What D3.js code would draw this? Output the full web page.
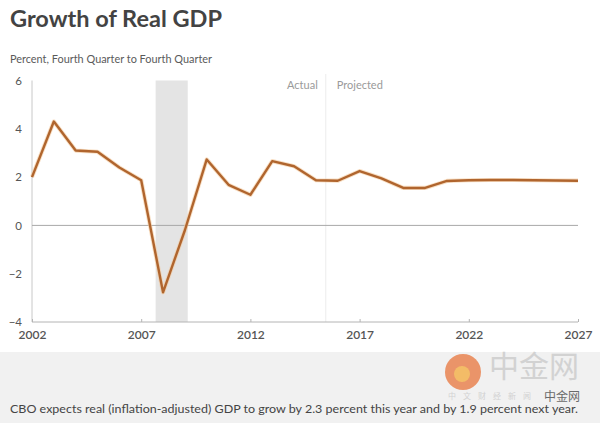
<!DOCTYPE html>
<html>
<head>
<meta charset="utf-8">
<script src="https://cdn.jsdelivr.net/npm/d3@7"></script>
<style>
  html, body { margin: 0; padding: 0; background: #fff; }
  svg { display: block; font-family: Lato, "Open Sans", "Noto Sans", sans-serif; }
</style>
</head>
<body>
<svg id="chart" width="600" height="423"></svg>
<script>
const years = [2002,2003,2004,2005,2006,2007,2008,2009,2010,2011,2012,2013,2014,2015,2016,2017,2018,2019,2020,2021,2022,2023,2024,2025,2026,2027];
const growth = [2.0,4.3,3.1,3.05,2.4,1.87,-2.77,-0.2,2.73,1.68,1.27,2.66,2.45,1.87,1.85,2.25,1.95,1.55,1.55,1.84,1.87,1.88,1.88,1.87,1.86,1.85];
const xTicks = [2002,2007,2012,2017,2022,2027];
const yTicks = [-4,-2,0,2,4,6];
const recession = [2007.66, 2009.13];
const divider = 2015.45;
const title = "Growth of Real GDP";
const subtitle = "Percent, Fourth Quarter to Fourth Quarter";
const caption = "CBO expects real (inflation-adjusted) GDP to grow by 2.3 percent this year and by 1.9 percent next year.";

const svg = d3.select("#chart");
const x = d3.scaleLinear().domain([2002, 2027]).range([32, 578]);
const y = d3.scaleLinear().domain([-4, 6]).range([322, 80.5]);

// caption band
svg.append("rect").attr("x",0).attr("y",352).attr("width",600).attr("height",71).attr("fill","#f1f1f1");

// title
svg.append("text").attr("x",10).attr("y",27).attr("font-size",22).attr("font-weight",700)
  .attr("fill","#434343").attr("textLength",212).attr("lengthAdjust","spacingAndGlyphs").text(title);
svg.append("text").attr("x",10).attr("y",63).attr("font-size",11.5).attr("fill","#5a5a5a")
  .attr("textLength",202).attr("lengthAdjust","spacingAndGlyphs").text(subtitle);

// recession band
svg.append("rect").attr("x",x(recession[0])).attr("y",y(6)).attr("width",x(recession[1])-x(recession[0]))
  .attr("height",y(-4)-y(6)).attr("fill","#e4e4e4");

// divider
svg.append("line").attr("x1",x(divider)).attr("x2",x(divider)).attr("y1",74).attr("y2",y(-4))
  .attr("stroke","#efefef").attr("stroke-width",1.2);
svg.append("text").attr("x",x(divider)-8).attr("y",89).attr("text-anchor","end").attr("font-size",11)
  .attr("fill","#9a9a9a").text("Actual");
svg.append("text").attr("x",x(divider)+11).attr("y",89).attr("text-anchor","start").attr("font-size",11)
  .attr("fill","#9a9a9a").text("Projected");

// y axis line
svg.append("line").attr("x1",x(2002)).attr("x2",x(2002)).attr("y1",y(6)).attr("y2",y(-4))
  .attr("stroke","#c8c8c8").attr("stroke-width",1);

// zero line
svg.append("line").attr("x1",x(2002)).attr("x2",x(2027)).attr("y1",y(0)).attr("y2",y(0))
  .attr("stroke","#a8a8a8").attr("stroke-width",1);

// y axis labels
const yAxis = d3.axisLeft(y).tickValues(yTicks).tickSize(0).tickPadding(0).tickFormat(d3.format("d"));
const gy = svg.append("g").attr("transform","translate(22,0)").call(yAxis);
gy.select(".domain").remove();
gy.selectAll("text").attr("font-size",11.5).attr("fill","#555").attr("font-family","Lato, 'Open Sans', sans-serif");

// x axis
const xAxis = d3.axisBottom(x).tickValues(xTicks).tickSize(-3).tickPadding(8).tickFormat(d3.format("d"));
const gx = svg.append("g").attr("transform",`translate(0,${y(-4)})`).call(xAxis);
gx.select(".domain").attr("stroke","#b4b4b4").attr("d",`M${x(2002)},0H${x(2027)}`);
gx.selectAll(".tick line").attr("stroke","#b4b4b4");
gx.selectAll("text").attr("font-size",12).attr("fill","#555").attr("font-weight",600)
  .attr("font-family","Lato, 'Open Sans', sans-serif");

// line
const line = d3.line().x((d,i)=>x(years[i])).y(d=>y(d));
svg.append("path").datum(growth).attr("d",line).attr("fill","none")
  .attr("stroke","#f3c99c").attr("stroke-width",4.2).attr("stroke-linejoin","round").attr("opacity",0.6);
svg.append("path").datum(growth).attr("d",line).attr("fill","none")
  .attr("stroke","#b0652e").attr("stroke-width",2.4).attr("stroke-linejoin","round");

// watermark
svg.append("circle").attr("cx",463).attr("cy",372).attr("r",18).attr("fill","#e98a5a").attr("opacity",0.9);
svg.append("circle").attr("cx",462).attr("cy",374).attr("r",8).attr("fill","#f4c067").attr("opacity",0.9);
svg.append("text").attr("x",489).attr("y",377).attr("font-size",30).attr("fill","#cfcfcf")
  .attr("font-family","'Noto Sans CJK SC', sans-serif").attr("opacity",0.9).text("中金网");
svg.append("text").attr("x",544).attr("y",401).attr("font-size",12).attr("fill","#6a6a6a")
  .attr("font-family","'Noto Sans CJK SC', sans-serif").text("中金网");
svg.append("text").attr("x",448).attr("y",399).attr("font-size",8).attr("fill","#d2d2d2")
  .attr("letter-spacing",7).attr("font-family","'Noto Sans CJK SC', sans-serif").text("中文财经新闻");

// caption
svg.append("text").attr("x",10).attr("y",413).attr("font-size",11.6).attr("fill","#444")
  .attr("textLength",568).attr("lengthAdjust","spacingAndGlyphs").text(caption);
</script>
</body>
</html>
